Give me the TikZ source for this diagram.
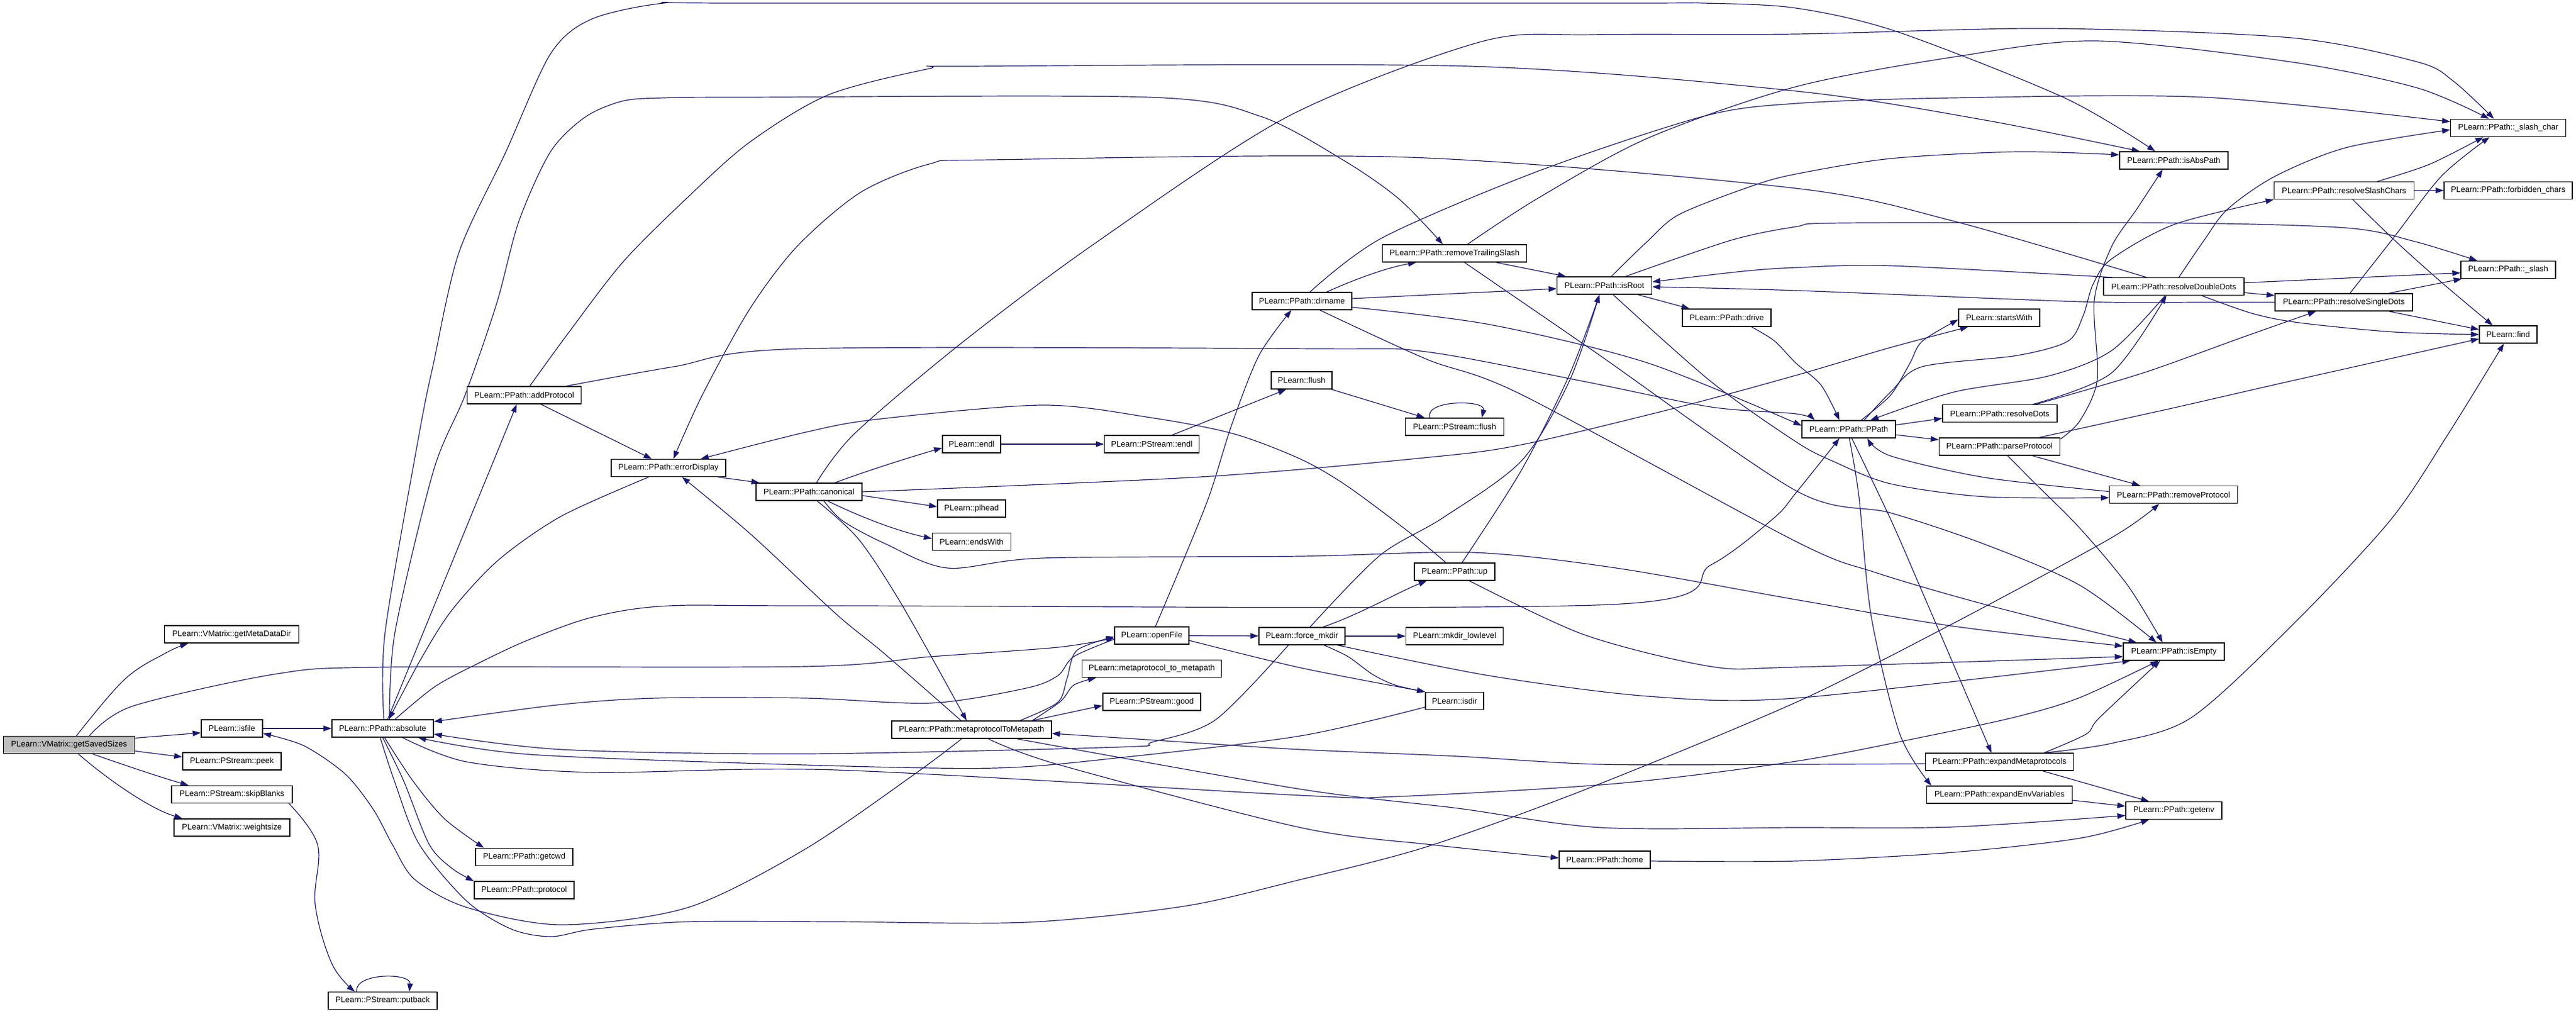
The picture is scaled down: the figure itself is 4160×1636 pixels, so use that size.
\documentclass[tikz,border=0pt]{standalone}
\usepackage{fontspec}
\setmainfont{Liberation Sans}
\usetikzlibrary{arrows.meta}
\pgfdeclarelayer{bg}
\pgfdeclarelayer{paper}
\pgfsetlayers{paper,bg,main}
\definecolor{edgecol}{HTML}{191970}
\begin{document}
\begin{tikzpicture}[x=1pt,y=-1pt,
  nbox/.style={draw=black, line width=1.4pt, minimum height=28pt, inner sep=2pt, fill=white, font=\fontsize{13}{15}\selectfont},
  edgeline/.style={draw=edgecol, line width=1.2pt, -{Triangle[length=13pt,width=9pt]}}]
\begin{pgfonlayer}{paper}
\fill[white] (0,0) rectangle (4160,1636);
\end{pgfonlayer}
\useasboundingbox (0,0) rectangle (4160,1636);
% nodes
\node[nbox, minimum width=212pt, fill={rgb,255:red,191;green,191;blue,191}] (gss) at (111.5,1202.5) {PLearn::VMatrix::getSavedSizes};
\node[nbox, minimum width=217pt] (gmdd) at (374,1024) {PLearn::VMatrix::getMetaDataDir};
\node[nbox, minimum width=99pt] (isfile) at (374.5,1176) {PLearn::isfile};
\node[nbox, minimum width=159pt] (peek) at (374.5,1229) {PLearn::PStream::peek};
\node[nbox, minimum width=195pt] (skip) at (374.5,1282.5) {PLearn::PStream::skipBlanks};
\node[nbox, minimum width=187pt] (wsize) at (374.5,1336) {PLearn::VMatrix::weightsize};
\node[nbox, minimum width=164pt] (abs) at (618,1176) {PLearn::PPath::absolute};
\node[nbox, minimum width=176pt] (putback) at (618,1615.5) {PLearn::PStream::putback};
\node[nbox, minimum width=184pt] (addp) at (846.5,638) {PLearn::PPath::addProtocol};
\node[nbox, minimum width=185pt] (errd) at (1079.5,755.5) {PLearn::PPath::errorDisplay};
\node[nbox, minimum width=157pt] (getcwd) at (846.5,1383.5) {PLearn::PPath::getcwd};
\node[nbox, minimum width=161pt] (protocol) at (846.5,1437) {PLearn::PPath::protocol};
\node[nbox, minimum width=171pt] (canon) at (1306.5,794) {PLearn::PPath::canonical};
\node[nbox, minimum width=94pt] (endl) at (1569,717) {PLearn::endl};
\node[nbox, minimum width=153pt] (psendl) at (1860,717) {PLearn::PStream::endl};
\node[nbox, minimum width=110pt] (plhead) at (1569,821) {PLearn::plhead};
\node[nbox, minimum width=127pt] (endsw) at (1569,874.5) {PLearn::endsWith};
\node[nbox, minimum width=258pt] (m2m) at (1569,1178) {PLearn::PPath::metaprotocolToMetapath};
\node[nbox, minimum width=120pt] (openf) at (1860,1026) {PLearn::openFile};
\node[nbox, minimum width=225pt] (mp2mp) at (1860,1079.5) {PLearn::metaprotocol\_to\_metapath};
\node[nbox, minimum width=158pt] (good) at (1860,1133) {PLearn::PStream::good};
\node[nbox, minimum width=98pt] (flush) at (2102,614) {PLearn::flush};
\node[nbox, minimum width=161pt] (dirn) at (2102.5,486) {PLearn::PPath::dirname};
\node[nbox, minimum width=139pt] (fmk) at (2102.5,1027) {PLearn::force\_mkdir};
\node[nbox, minimum width=233pt] (rts) at (2349,409) {PLearn::PPath::removeTrailingSlash};
\node[nbox, minimum width=159pt] (psflush) at (2349,689) {PLearn::PStream::flush};
\node[nbox, minimum width=130pt] (up) at (2349,923) {PLearn::PPath::up};
\node[nbox, minimum width=157pt] (mkll) at (2349,1027) {PLearn::mkdir\_lowlevel};
\node[nbox, minimum width=94pt] (isdir) at (2349,1131.5) {PLearn::isdir};
\node[nbox, minimum width=153pt] (isroot) at (2591,461) {PLearn::PPath::isRoot};
\node[nbox, minimum width=147pt] (home) at (2591.5,1388) {PLearn::PPath::home};
\node[nbox, minimum width=143pt] (drive) at (2788.5,513) {PLearn::PPath::drive};
\node[nbox, minimum width=151pt] (ppath) at (2985.5,693) {PLearn::PPath::PPath};
\node[nbox, minimum width=131pt] (startsw) at (3228.5,513) {PLearn::startsWith};
\node[nbox, minimum width=185pt] (rdots) at (3229.5,667.5) {PLearn::PPath::resolveDots};
\node[nbox, minimum width=195pt] (pproto) at (3229,721) {PLearn::PPath::parseProtocol};
\node[nbox, minimum width=239pt] (expm) at (3229,1230) {PLearn::PPath::expandMetaprotocols};
\node[nbox, minimum width=235pt] (expe) at (3229,1283) {PLearn::PPath::expandEnvVariables};
\node[nbox, minimum width=175pt] (isabs) at (3510.5,259) {PLearn::PPath::isAbsPath};
\node[nbox, minimum width=227pt] (rdd) at (3510.5,462.5) {PLearn::PPath::resolveDoubleDots};
\node[nbox, minimum width=207pt] (rmproto) at (3510,798.5) {PLearn::PPath::removeProtocol};
\node[nbox, minimum width=163pt] (isempty) at (3510.5,1052) {PLearn::PPath::isEmpty};
\node[nbox, minimum width=155pt] (getenv) at (3510.5,1308.5) {PLearn::PPath::getenv};
\node[nbox, minimum width=226pt] (rsc) at (3785.5,307.5) {PLearn::PPath::resolveSlashChars};
\node[nbox, minimum width=222pt] (rsd) at (3785,488) {PLearn::PPath::resolveSingleDots};
\node[nbox, minimum width=186pt] (slashc) at (4050.5,206.5) {PLearn::PPath::\_slash\_char};
\node[nbox, minimum width=207pt] (forbid) at (4050.5,307.5) {PLearn::PPath::forbidden\_chars};
\node[nbox, minimum width=153pt] (slash) at (4050.5,435.5) {PLearn::PPath::\_slash};
\node[nbox, minimum width=93pt] (find) at (4050.5,540) {PLearn::find};
% edges
\begin{pgfonlayer}{bg}
\draw[edgeline] plot[smooth,tension=0.6] coordinates {([xshift=12pt]gss.north) (201,1097) (268,1054) ([xshift=-70pt]gmdd.south)};
\draw[edgeline] plot[smooth,tension=0.5] coordinates {([xshift=33pt]gss.north) (214,1140) (446,1088) (620,1077) (1300,1076) (1504,1060) (1708,1045) ([yshift=-4pt]openf.west)};
\draw[edgeline] ([yshift=11pt]gss.east) -- ([yshift=-7pt]isfile.west);
\draw[edgeline] ([yshift=-10pt]gss.east) -- ([yshift=7pt]peek.west);
\draw[edgeline] ([xshift=38pt]gss.south) .. controls (200,1235) and (260,1255) .. ([xshift=-70pt]skip.north);
\draw[edgeline] ([xshift=15pt]gss.south) .. controls (170,1255) and (240,1305) .. ([xshift=-80pt]wsize.north);
\draw[edgeline] (isfile) -- (abs);
\draw[edgeline] plot[smooth,tension=0.6] coordinates {([xshift=92pt]skip.south) (513,1364) (509,1460) (536,1556) ([xshift=-45pt]putback.north)};
\draw[edgeline] ([xshift=-42pt]putback.north) .. controls (572,1570) and (664,1570) .. ([xshift=43pt]putback.north);
\draw[edgeline] ([xshift=8pt]abs.north) -- ([xshift=-12pt]addp.south);
\draw[edgeline] plot[smooth,tension=0.5] coordinates {([xshift=2pt]abs.north) (622,1020) (677,700) (700,587) (741,408) (817,245) (889,87) (955,31) (1072,5) (1200,5) (2600,5) (2750,5) (2900,13) (3063,51) (3334,158) ([xshift=-30pt]isabs.north)};
\draw[edgeline] plot[smooth,tension=0.5] coordinates {([xshift=11pt]abs.north) (638,1020) (700,760) (751,638) (802,490) (838,357) (889,245) (945,189) (1006,163) (1072,158) (1200,157) (1857,157) (2036,188) (2170,259) (2259,321) ([xshift=-19pt]rts.north)};
\draw[edgeline] plot[smooth,tension=0.5] coordinates {([xshift=20pt]abs.north) (703,1108) (780,1067) (856,1032) (958,996) (1081,978) (1350,978) (2600,976) (2763,912) (2865,836) (2900,796) ([xshift=-15pt]ppath.south)};
\draw[edgeline] plot[smooth,tension=0.5] coordinates {([xshift=-32pt]errd.south) (907,833) (805,904) (729,986) (678,1067) ([xshift=10pt]abs.north)};
\draw[edgeline] ([xshift=27pt]addp.south) -- ([xshift=-27pt]errd.north);
\draw[edgeline] plot[smooth,tension=0.5] coordinates {([xshift=9pt]addp.north) (919,536) (1006,423) (1108,321) (1210,230) (1338,153) (1500,111) (1562,107) (2375,107) (2900,147) (3206,194) ([xshift=-55pt]isabs.north)};
\draw[edgeline] plot[smooth,tension=0.5] coordinates {([xshift=68pt]addp.north) (1088,592) (1292,563) (2129,563) (2304,568) (2559,616) (2763,657) (2900,668) ([xshift=-55pt]ppath.north)};
\draw[edgeline] ([xshift=80pt]errd.south) -- ([xshift=-80pt]canon.north);
\draw[edgeline] ([xshift=42pt]canon.north) .. controls (1400,760) and (1470,738) .. ([yshift=-6pt]endl.west);
\draw[edgeline] ([yshift=-6pt]canon.east) -- ([yshift=3pt]plhead.west);
\draw[edgeline] ([xshift=30pt]canon.south) .. controls (1380,830) and (1440,855) .. ([yshift=5pt]endsw.west);
\draw[edgeline] plot[smooth,tension=0.5] coordinates {([xshift=13pt]canon.south) (1387,871) (1458,979) ([xshift=-8pt]m2m.north)};
\draw[edgeline] plot[smooth,tension=0.5] coordinates {([xshift=24pt]canon.south) (1361,841) (1428,877) (1530,917) (1683,901) (2100,898) (2380,892) (2610,917) (2900,968) (3155,1011) ([yshift=9pt]isempty.west)};
\draw[edgeline] plot[smooth,tension=0.5] coordinates {(canon.east) (1938,770) (2300,739) (2457,718) (2712,657) (2900,606) (3053,561) ([xshift=-50pt]startsw.south)};
\draw[edgeline] plot[smooth,tension=0.5] coordinates {([xshift=12pt]canon.north) (1380,700) (1555,552) (1768,393) (2080,188) (2393,67) (2571,56) (2900,55) (3308,46) (3700,61) (3904,100) (3962,131) ([xshift=-23pt]slashc.north)};
\draw[edgeline] plot[smooth,tension=0.5] coordinates {([xshift=-44pt]rdd.north) (3155,357) (2900,304) (2277,254) (1600,258) (1500,265) (1389,311) (1287,398) (1210,500) (1134,638) ([xshift=8pt]errd.north)};
\draw[edgeline] plot[smooth,tension=0.5] coordinates {([xshift=-14pt]up.north) (2278,861) (2176,785) (2100,741) (1991,700) (1857,674) (1683,654) (1415,677) (1300,698) ([xshift=52pt]errd.north)};
\draw[edgeline] plot[smooth,tension=0.5] coordinates {([xshift=-17pt]m2m.north) (1428,1055) (1350,991) (1213,863) ([xshift=22pt]errd.south)};
\draw[edgeline] plot[smooth,tension=0.5] coordinates {([xshift=78pt]m2m.north) (1708,1134) (1723,1096) (1739,1050) ([yshift=-2pt]openf.west)};
\draw[edgeline] plot[smooth,tension=0.5] coordinates {([xshift=98pt]m2m.north) (1713,1132) (1734,1106) ([xshift=-90pt]mp2mp.south)};
\draw[edgeline] ([xshift=98pt]m2m.north) -- ([yshift=-6pt]good.west);
\draw[edgeline] plot[smooth,tension=0.5] coordinates {([xshift=-16pt]m2m.south) (1478,1249) (1300,1371) (1111,1465) (907,1493) (754,1465) (670,1420) (634,1364) (603,1307) (558,1250) (491,1204) ([yshift=-8pt]isfile.east)};
\draw[edgeline] plot[smooth,tension=0.5] coordinates {([xshift=27pt]m2m.south) (1708,1234) (2100,1336) (2314,1364) ([yshift=3pt]home.west)};
\draw[edgeline] plot[smooth,tension=0.5] coordinates {([xshift=73pt]m2m.south) (2100,1274) (2355,1305) (2585,1336) (2900,1336) (3155,1335) ([yshift=-8pt]getenv.west)};
\draw[edgeline] plot[smooth,tension=0.5] coordinates {([yshift=-3pt]expm.west) (2900,1234) (2585,1234) (2355,1221) (2100,1210) (1912,1198) ([yshift=-6pt]m2m.east)};
\draw[edgeline] plot[smooth,tension=0.5] coordinates {([yshift=-6pt]openf.west) (1734,1060) (1708,1091) (1657,1111) (1504,1135) (1300,1127) (1060,1127) (900,1138) ([yshift=11pt]abs.east)};
\draw[edgeline] plot[smooth,tension=0.5] coordinates {([xshift=6pt]openf.north) (1912,902) (1953,800) (1989,686) (2033,574) ([xshift=-17pt]dirn.south)};
\draw[edgeline] (openf) -- (fmk);
\draw[edgeline] plot[smooth,tension=0.5] coordinates {([yshift=-8pt]openf.east) (2100,1078) (isdir.north west)};
\draw[edgeline] plot[smooth,tension=0.5] coordinates {([xshift=36pt]fmk.south) (2177,1060) (2217,1089) (2253,1106) (isdir.north west)};
\draw[edgeline] ([xshift=34pt]fmk.north) .. controls (2200,990) and (2260,955) .. ([xshift=-45pt]up.south);
\draw[edgeline] (fmk) -- (mkll);
\draw[edgeline] plot[smooth,tension=0.5] coordinates {([xshift=58pt]fmk.south) (2406,1091) (2661,1124) (2900,1127) ([xshift=-70pt]isempty.south)};
\draw[edgeline] plot[smooth,tension=0.5] coordinates {([xshift=-22pt]fmk.south) (1963,1162) (1861,1198) (1810,1206) (1300,1217) (907,1210) ([yshift=-9pt]abs.east)};
\draw[edgeline] plot[smooth,tension=0.5] coordinates {([yshift=-10pt]isdir.west) (2100,1188) (1810,1223) (1606,1240) (1300,1235) (856,1218) ([xshift=57pt]abs.south)};
\draw[edgeline] plot[smooth,tension=0.5] coordinates {([xshift=32pt]abs.south) (754,1230) (958,1247) (1350,1243) (2100,1284) (2253,1286) (2610,1265) (2900,1229) (3104,1190) (3257,1157) (3359,1126) ([xshift=-25pt]isempty.south)};
\draw[edgeline] plot[smooth,tension=0.5] coordinates {([xshift=72pt]expm.north) (3369,1185) (3390,1159) ([xshift=-22pt]isempty.south)};
\draw[edgeline] plot[smooth,tension=0.5] coordinates {([xshift=72pt]expm.north) (3410,1200) (3538,1159) (3700,1011) (3860,840) (3954,700) ([xshift=-7pt]find.south)};
\draw[edgeline] ([xshift=70pt]expm.south) -- ([xshift=-40pt]getenv.north);
\draw[edgeline] ([yshift=-9pt]expe.east) -- ([yshift=7pt]getenv.west);
\draw[edgeline] plot[smooth,tension=0.5] coordinates {([yshift=-2pt]home.east) (2900,1390) (3155,1376) (3360,1353) ([xshift=-40pt]getenv.south)};
\draw[edgeline] plot[smooth,tension=0.5] coordinates {([xshift=5pt]ppath.south) (3053,838) (3104,955) ([xshift=-13pt]expm.north)};
\draw[edgeline] plot[smooth,tension=0.5] coordinates {([xshift=1pt]ppath.south) (3002,802) (3022,996) (3068,1185) ([xshift=-110pt]expe.north)};
\draw[edgeline] plot[smooth,tension=0.5] coordinates {([xshift=20pt]ppath.north) (3053,638) (3084,587) (3104,551) ([yshift=-3pt]startsw.west)};
\draw[edgeline] plot[smooth,tension=0.5] coordinates {([xshift=25pt]ppath.north) (3053,633) (3104,592) (3257,574) (3339,551) (3364,510) (3380,459) (3410,418) (3512,362) (rsc.south west)};
\draw[edgeline] ([yshift=7pt]ppath.east) -- ([yshift=-8pt]rdots.west);
\draw[edgeline] ([yshift=-9pt]ppath.east) -- ([yshift=11pt]pproto.west);
\draw[edgeline] plot[smooth,tension=0.5] coordinates {([xshift=-14pt]rdd.south) (3410,566) (3308,607) (3155,633) ([xshift=35pt]ppath.north)};
\draw[edgeline] plot[smooth,tension=0.5] coordinates {([xshift=53pt]rdots.north) (3410,602) ([xshift=-12pt]rdd.south)};
\draw[edgeline] plot[smooth,tension=0.5] coordinates {([xshift=58pt]rdots.north) (3461,602) (3620,545) ([xshift=-45pt]rsd.south)};
\draw[edgeline] plot[smooth,tension=0.5] coordinates {([yshift=12pt]pproto.east) (3359,679) (3387,612) (3382,485) (3410,398) (3451,337) ([xshift=-18pt]isabs.south)};
\draw[edgeline] ([xshift=53pt]pproto.south) -- ([xshift=-54pt]rmproto.north);
\draw[edgeline] plot[smooth,tension=0.5] coordinates {([xshift=13pt]pproto.south) (3283,777) (3359,853) (3436,945) ([xshift=-18pt]isempty.north)};
\draw[edgeline] plot[smooth,tension=0.5] coordinates {([xshift=64pt]pproto.north) (3512,658) (3700,615) ([yshift=-7pt]find.west)};
\draw[edgeline] plot[smooth,tension=0.5] coordinates {([yshift=5pt]rmproto.west) (3206,771) (3053,736) ([xshift=30pt]ppath.south)};
\draw[edgeline] plot[smooth,tension=0.5] coordinates {([xshift=14pt]isroot.south) (2763,616) (2900,713) (2961,745) (3053,781) (3206,802) ([yshift=-5pt]rmproto.west)};
\draw[edgeline] ([xshift=54pt]isroot.south) -- ([xshift=-60pt]drive.north);
\draw[edgeline] plot[smooth,tension=0.5] coordinates {([xshift=11pt]isroot.north) (2660,390) (2712,346) (2830,300) (2900,281) (3053,256) (3257,245) ([yshift=9pt]isabs.west)};
\draw[edgeline] plot[smooth,tension=0.5] coordinates {([xshift=34pt]isroot.north) (2795,388) (2900,366) (2977,360) (3512,360) (3790,368) (3900,390) ([xshift=-50pt]slash.north)};
\draw[edgeline] ([yshift=4pt]dirn.east) -- ([yshift=-5pt]isroot.west);
\draw[edgeline] ([xshift=40pt]dirn.north) .. controls (2190,450) and (2240,432) .. ([xshift=-62pt]rts.south);
\draw[edgeline] ([xshift=67pt]rts.south) -- ([xshift=-62pt]isroot.north);
\draw[edgeline] plot[smooth,tension=0.5] coordinates {([yshift=-10pt]dirn.east) (2406,524) (2661,586) ([yshift=6pt]ppath.west)};
\draw[edgeline] plot[smooth,tension=0.5] coordinates {([xshift=29pt]dirn.south) (2304,580) (2457,637) (2900,874) (3028,924) (3206,976) ([xshift=-60pt]isempty.north)};
\draw[edgeline] plot[smooth,tension=0.5] coordinates {([xshift=13pt]dirn.north) (2232,384) (2482,277) (2750,188) (2900,167) (3155,158) (3560,157) ([yshift=10pt]slashc.west)};
\draw[edgeline] plot[smooth,tension=0.5] coordinates {([xshift=21pt]rts.north) (2482,321) (2661,223) (2900,140) (3155,92) (3385,66) (3700,100) (3904,142) ([xshift=-31pt]slashc.north)};
\draw[edgeline] plot[smooth,tension=0.5] coordinates {([xshift=16pt]rts.south) (2571,565) (2900,792) (3053,828) (3206,879) (3359,945) ([xshift=-28pt]isempty.north)};
\draw[edgeline] plot[smooth,tension=0.5] coordinates {([xshift=12pt]up.north) (2457,759) (2534,606) ([xshift=-8pt]isroot.south)};
\draw[edgeline] plot[smooth,tension=0.5] coordinates {([xshift=13pt]fmk.north) (2228,897) (2330,836) (2457,744) (2534,616) ([xshift=-8pt]isroot.south)};
\draw[edgeline] plot[smooth,tension=0.5] coordinates {([xshift=24pt]up.south) (2559,1025) (2763,1076) (2900,1077) ([yshift=-8pt]isempty.west)};
\draw[edgeline] plot[smooth,tension=0.5] coordinates {([xshift=40pt]drive.south) (2865,550) (2900,586) (2941,622) ([xshift=-15pt]ppath.north)};
\draw[edgeline] plot[smooth,tension=0.5] coordinates {([xshift=-100pt]rdd.north) (3053,429) (2900,432) (2814,438) ([yshift=6pt]isroot.east)};
\draw[edgeline] plot[smooth,tension=0.5] coordinates {(rsd.west) (3560,488) (3359,487) (2900,469) ([yshift=-2pt]isroot.east)};
\draw[edgeline] plot[smooth,tension=0.5] coordinates {([xshift=8pt]rdd.north) (3560,387) (3598,337) (3675,284) (3790,238) ([yshift=-3pt]slashc.west)};
\draw[edgeline] ([yshift=6pt]rdd.east) -- ([yshift=-5pt]slash.west);
\draw[edgeline] ([yshift=-10pt]rdd.east) -- ([yshift=11pt]rsd.west);
\draw[edgeline] plot[smooth,tension=0.5] coordinates {([xshift=45pt]rdd.south) (3637,506) (3713,521) (3866,536) (find.west)};
\draw[edgeline] plot[smooth,tension=0.5] coordinates {([xshift=10pt]rsd.north) (3866,383) (3943,284) ([xshift=-30pt]slashc.south)};
\draw[edgeline] ([xshift=73pt]rsd.north) -- ([xshift=-75pt]slash.south);
\draw[edgeline] ([xshift=73pt]rsd.south) -- ([yshift=8pt]find.west);
\draw[edgeline] plot[smooth,tension=0.5] coordinates {([xshift=54pt]rsc.north) (3924,265) ([xshift=-40pt]slashc.south)};
\draw[edgeline] (rsc) -- (forbid);
\draw[edgeline] plot[smooth,tension=0.5] coordinates {([xshift=14pt]rsc.south) (3866,387) (3943,456) ([xshift=-25pt]find.north)};
\draw[edgeline] (flush) -- (psflush);
\draw[edgeline] ([xshift=-40pt]psflush.north) .. controls (2300,645) and (2400,645) .. ([xshift=44pt]psflush.north);
\draw[edgeline] (endl) -- (psendl);
\draw[edgeline] ([xshift=33pt]psendl.north) -- ([xshift=-25pt]flush.south);
\draw[edgeline] plot[smooth,tension=0.5] coordinates {([xshift=3pt]abs.south) (667,1261) (718,1322) ([xshift=-65pt]getcwd.north)};
\draw[edgeline] plot[smooth,tension=0.5] coordinates {(abs.south) (652,1261) (693,1363) (730,1402) (protocol.north west)};
\draw[edgeline] plot[smooth,tension=0.5] coordinates {([xshift=-4pt]abs.south) (637,1261) (677,1363) (754,1455) (826,1500) (890,1512) (958,1500) (1111,1488) (1350,1488) (1657,1489) (1912,1463) (2100,1420) (2304,1367) (2559,1275) (2900,1134) (3155,1006) (3410,868) ([xshift=-23pt]rmproto.south)};
\end{pgfonlayer}
\end{tikzpicture}
\end{document}
